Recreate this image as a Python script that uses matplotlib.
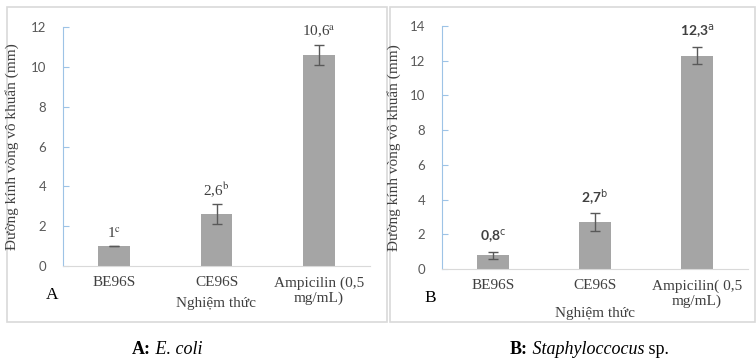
import matplotlib
matplotlib.use("Agg")
import matplotlib.pyplot as plt
from matplotlib.patches import Rectangle

# data
cats_a = ["BE96S", "CE96S", "Ampicilin (0,5\nmg/mL)"]
vals_a = [1.0, 2.6, 10.6]
err_a = [0.02, 0.5, 0.5]
lbl_a = ["1$^{\\mathrm{c}}$", "2,6$^{\\mathrm{b}}$", "10,6$^{\\mathrm{a}}$"]

cats_b = ["BE96S", "CE96S", "Ampicilin( 0,5\nmg/mL)"]
vals_b = [0.8, 2.7, 12.3]
err_b = [0.2, 0.5, 0.5]
lbl_b = ["0,8$^{\\mathrm{c}}$", "2,7$^{\\mathrm{b}}$", "12,3$^{\\mathrm{a}}$"]

ylab = "Đường kính vòng vô khuẩn (mm)"
xlab = "Nghiệm thức"

SERIF = "Liberation Serif"
SANS = "Lato"
TXT = "#404040"

W, H = 756, 360
fig = plt.figure(figsize=(W / 100, H / 100), dpi=100)

def fx(px):
    return px / W

def fy(py):
    return 1 - py / H

# frames round each panel
for x0, x1 in [(7, 387), (390, 755)]:
    fig.patches.append(Rectangle((fx(x0), fy(322)), fx(x1 - x0), (322 - 7) / H,
                                 transform=fig.transFigure, fill=False,
                                 edgecolor="#d9d9d9", linewidth=1.2))


def panel(rect, cats, vals, err, lbls, ymax, lab_serif, xlab_y, ylab_x, letter, letter_xy):
    l, t, r, b = rect
    ax = fig.add_axes([fx(l), fy(b), fx(r - l), (b - t) / H])
    x = list(range(len(cats)))
    ax.bar(x, vals, width=0.31, color="#a5a5a5", zorder=2)
    ax.errorbar(x, vals, yerr=err, fmt="none", ecolor="#595959",
                elinewidth=1, capsize=3.5, capthick=1, zorder=3)
    ax.set_xlim(-0.5, 2.5)
    ax.set_ylim(0, ymax)
    ax.set_yticks(range(0, ymax + 1, 2))
    ax.set_xticks(x)
    ax.set_xticklabels(cats, fontfamily=SERIF, fontsize=11, color=TXT, linespacing=1.2)
    ax.tick_params(axis="x", length=0, pad=7.5)
    ax.tick_params(axis="y", direction="in", length=4, color="#9dc3e6", pad=12,
                   labelsize=9.5, labelcolor="#595959")
    for t_ in ax.get_yticklabels():
        t_.set_fontfamily(SANS)
    for s in ["top", "right"]:
        ax.spines[s].set_visible(False)
    ax.spines["left"].set_color("#9dc3e6")
    ax.spines["bottom"].set_color("#d9d9d9")
    for xi, v, e, s in zip(x, vals, err, lbls):
        if lab_serif:
            ax.annotate(s, (xi, v + e), xytext=(0, 3.5), textcoords="offset points",
                        ha="center", va="bottom", fontsize=11, color=TXT,
                        fontfamily=SERIF, math_fontfamily="stix")
        else:
            ax.annotate(s, (xi, v + e), xytext=(0, 5), textcoords="offset points",
                        ha="center", va="bottom", fontsize=10, color=TXT,
                        fontfamily=SANS, fontweight="bold", math_fontfamily="dejavusans")
    ax.set_xlabel(xlab, fontfamily=SERIF, fontsize=11, color=TXT)
    ax.xaxis.set_label_coords(0.5, (b - xlab_y) / (b - t), transform=ax.transAxes)
    ax.xaxis.label.set_va("center")
    fig.text(fx(ylab_x), fy((t + b) / 2), ylab, rotation=90, ha="center", va="center",
             fontfamily=SERIF, fontsize=11, color=TXT)
    fig.text(fx(letter_xy[0]), fy(letter_xy[1]), letter, ha="center", va="center",
             fontfamily=SERIF, fontsize=12.5, color="black")
    return ax


panel((63, 27, 370, 266), cats_a, vals_a, err_a, lbl_a, 12, True, 303, 12, "A", (52, 295))
panel((442, 26, 748, 269), cats_b, vals_b, err_b, lbl_b, 14, False, 313, 394, "B", (430, 298))

# captions below the panels
def caption(x0, y, bold, ital, tail=""):
    t1 = fig.text(fx(x0), fy(y), bold, ha="left", va="center", fontfamily=SERIF,
                  fontweight="bold", fontsize=13)
    t2 = plt.annotate(" " + ital, xy=(1, 0.5), xycoords=t1, va="center", ha="left",
                      fontfamily=SERIF, fontstyle="italic", fontsize=13,
                      annotation_clip=False)
    if tail:
        plt.annotate(" " + tail, xy=(1, 0.5), xycoords=t2, va="center", ha="left",
                     fontfamily=SERIF, fontsize=13, annotation_clip=False)


caption(132, 350, "A:", "E. coli")
caption(510, 350, "B:", "Staphyloccocus", "sp.")

fig.savefig("out.png", dpi=100)
